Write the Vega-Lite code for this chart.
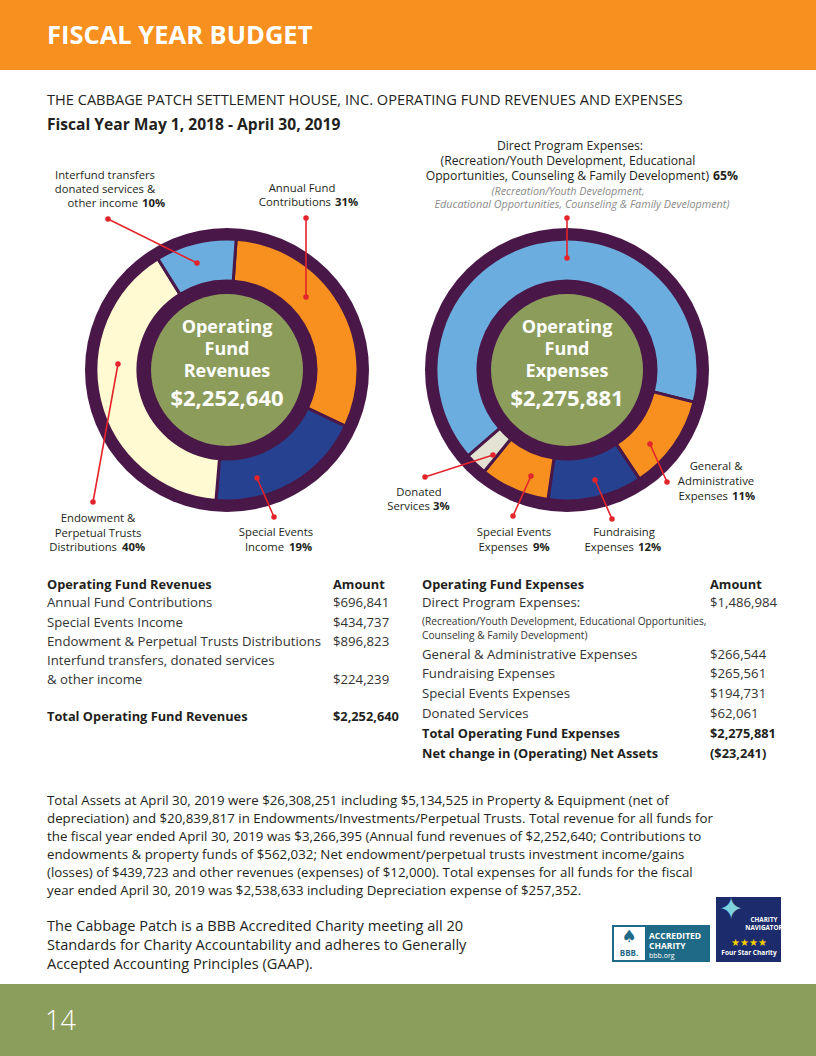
{
  "$schema": "https://vega.github.io/schema/vega-lite/v6.json",
  "padding": 0,
  "spacing": 0,
  "bounds": "flush",
  "background": "white",
  "config": {"view": {"stroke": null}, "font": "Open Sans"},
  "resolve": {"scale": {"color": "independent", "theta": "independent", "x": "independent", "y": "independent"}},
  "datasets": {
    "segL": [
      {"item": "Annual Fund Contributions", "amount": 696841, "ord": 1},
      {"item": "Special Events Income", "amount": 434737, "ord": 2},
      {"item": "Endowment & Perpetual Trusts Distributions", "amount": 896823, "ord": 3},
      {"item": "Interfund transfers, donated services & other income", "amount": 224239, "ord": 4}
    ],
    "segR": [
      {"item": "Direct Program Expenses", "amount": 1486984, "ord": 1},
      {"item": "General & Administrative Expenses", "amount": 266544, "ord": 2},
      {"item": "Fundraising Expenses", "amount": 265561, "ord": 3},
      {"item": "Special Events Expenses", "amount": 194731, "ord": 4},
      {"item": "Donated Services", "amount": 62061, "ord": 5}
    ],
    "headerBand": [{"band": "header", "x": 0, "x2": 816, "y": 0, "y2": 70}],
    "footerBand": [{"band": "footer", "x": 0, "x2": 816, "y": 984, "y2": 1056}],
    "headerTxt": [{"t": "FISCAL YEAR BUDGET", "x": 47, "y": 36}],
    "pageNo": [{"t": "14", "x": 45, "y": 1022}],
    "lines": [
      {"x": 108, "y": 219, "x2": 197, "y2": 263},
      {"x": 306, "y": 218, "x2": 306, "y2": 297},
      {"x": 93, "y": 502, "x2": 118, "y2": 364},
      {"x": 274, "y": 517, "x2": 257, "y2": 478},
      {"x": 567, "y": 218, "x2": 567, "y2": 258},
      {"x": 667, "y": 482, "x2": 650, "y2": 444},
      {"x": 612, "y": 519, "x2": 595, "y2": 480},
      {"x": 513, "y": 516, "x2": 531, "y2": 476},
      {"x": 425, "y": 477, "x2": 493, "y2": 455}
    ],
    "labC": [
      {"t": "Interfund transfers", "x": 105, "y": 176},
      {"t": "donated services &", "x": 105, "y": 190},
      {"t": "Annual Fund", "x": 302, "y": 189},
      {"t": "Endowment &", "x": 98, "y": 519},
      {"t": "Perpetual Trusts", "x": 98, "y": 534},
      {"t": "Special Events", "x": 276, "y": 533},
      {"t": "General &", "x": 716, "y": 467},
      {"t": "Administrative", "x": 716, "y": 482},
      {"t": "Fundraising", "x": 624, "y": 533},
      {"t": "Special Events", "x": 514, "y": 533},
      {"t": "Donated", "x": 419, "y": 493}
    ],
    "labR": [
      {"t": "other income", "x": 138, "y": 204},
      {"t": "Contributions", "x": 331, "y": 203},
      {"t": "Distributions", "x": 117, "y": 548},
      {"t": "Income", "x": 284, "y": 548},
      {"t": "Expenses", "x": 728, "y": 497},
      {"t": "Expenses", "x": 634, "y": 548},
      {"t": "Expenses", "x": 528, "y": 548},
      {"t": "Services", "x": 430, "y": 507}
    ],
    "labB": [
      {"t": "10%", "x": 142, "y": 204},
      {"t": "31%", "x": 335, "y": 203},
      {"t": "40%", "x": 122, "y": 548},
      {"t": "19%", "x": 289, "y": 548},
      {"t": "11%", "x": 732, "y": 497},
      {"t": "12%", "x": 638, "y": 548},
      {"t": "9%", "x": 533, "y": 548},
      {"t": "3%", "x": 433, "y": 507}
    ],
    "dirC": [
      {"t": "Direct Program Expenses:", "x": 570, "y": 146},
      {"t": "(Recreation/Youth Development, Educational", "x": 568, "y": 161}
    ],
    "dirR": [{"t": "Opportunities, Counseling & Family Development)", "x": 709, "y": 176}],
    "dirB": [{"t": "65%", "x": 713, "y": 176}],
    "gray": [
      {"t": "(Recreation/Youth Development,", "x": 568, "y": 192},
      {"t": "Educational Opportunities, Counseling & Family Development)", "x": 582, "y": 205}
    ],
    "centerW": [
      {"t": "Operating", "x": 227, "y": 328},
      {"t": "Fund", "x": 227, "y": 350},
      {"t": "Revenues", "x": 227, "y": 372},
      {"t": "Operating", "x": 567, "y": 328},
      {"t": "Fund", "x": 567, "y": 350},
      {"t": "Expenses", "x": 567, "y": 372}
    ],
    "centerA": [
      {"t": "$2,252,640", "x": 227, "y": 399},
      {"t": "$2,275,881", "x": 567, "y": 399}
    ],
    "title1": [{"t": "THE CABBAGE PATCH SETTLEMENT HOUSE, INC. OPERATING FUND REVENUES AND EXPENSES", "x": 47, "y": 101}],
    "title2": [{"t": "Fiscal Year May 1, 2018 - April 30, 2019", "x": 47, "y": 125}],
    "tblN": [
      {"t": "Annual Fund Contributions", "x": 47, "y": 603},
      {"t": "$696,841", "x": 333, "y": 603},
      {"t": "Special Events Income", "x": 47, "y": 623},
      {"t": "$434,737", "x": 333, "y": 623},
      {"t": "Endowment & Perpetual Trusts Distributions", "x": 47, "y": 642},
      {"t": "$896,823", "x": 333, "y": 642},
      {"t": "Interfund transfers, donated services", "x": 47, "y": 661},
      {"t": "& other income", "x": 47, "y": 680},
      {"t": "$224,239", "x": 333, "y": 680},
      {"t": "Direct Program Expenses:", "x": 422, "y": 603},
      {"t": "$1,486,984", "x": 710, "y": 603},
      {"t": "General & Administrative Expenses", "x": 422, "y": 655},
      {"t": "$266,544", "x": 710, "y": 655},
      {"t": "Fundraising Expenses", "x": 422, "y": 674},
      {"t": "$265,561", "x": 710, "y": 674},
      {"t": "Special Events Expenses", "x": 422, "y": 694},
      {"t": "$194,731", "x": 710, "y": 694},
      {"t": "Donated Services", "x": 422, "y": 714},
      {"t": "$62,061", "x": 710, "y": 714}
    ],
    "tblB": [
      {"t": "Operating Fund Revenues", "x": 47, "y": 585},
      {"t": "Amount", "x": 333, "y": 585},
      {"t": "Total Operating Fund Revenues", "x": 47, "y": 717},
      {"t": "$2,252,640", "x": 333, "y": 717},
      {"t": "Operating Fund Expenses", "x": 422, "y": 585},
      {"t": "Amount", "x": 710, "y": 585},
      {"t": "Total Operating Fund Expenses", "x": 422, "y": 734},
      {"t": "$2,275,881", "x": 710, "y": 734},
      {"t": "Net change in (Operating) Net Assets", "x": 422, "y": 754},
      {"t": "($23,241)", "x": 710, "y": 754}
    ],
    "tblS": [
      {"t": "(Recreation/Youth Development, Educational Opportunities,", "x": 422, "y": 622},
      {"t": "Counseling & Family Development)", "x": 422, "y": 636}
    ],
    "para1": [
      {"t": "Total Assets at April 30, 2019 were $26,308,251 including $5,134,525 in Property & Equipment (net of", "x": 47, "y": 801},
      {"t": "depreciation) and $20,839,817 in Endowments/Investments/Perpetual Trusts. Total revenue for all funds for", "x": 47, "y": 819},
      {"t": "the fiscal year ended April 30, 2019 was $3,266,395 (Annual fund revenues of $2,252,640; Contributions to", "x": 47, "y": 837},
      {"t": "endowments & property funds of $562,032; Net endowment/perpetual trusts investment income/gains", "x": 47, "y": 855},
      {"t": "(losses) of $439,723 and other revenues (expenses) of $12,000). Total expenses for all funds for the fiscal", "x": 47, "y": 873},
      {"t": "year ended April 30, 2019 was $2,538,633 including Depreciation expense of $257,352.", "x": 47, "y": 891}
    ],
    "para2": [
      {"t": "The Cabbage Patch is a BBB Accredited Charity meeting all 20", "x": 47, "y": 927},
      {"t": "Standards for Charity Accountability and adheres to Generally", "x": 47, "y": 946},
      {"t": "Accepted Accounting Principles (GAAP).", "x": 47, "y": 965}
    ],
    "bbbBox": [{"logo": "BBB", "x": 612, "x2": 710, "y": 925, "y2": 962}],
    "cnBox": [{"logo": "Charity Navigator", "x": 716, "x2": 781, "y": 897, "y2": 962}],
    "logoWhite": [{"logo": "BBB", "x": 614, "x2": 645, "y": 927, "y2": 960}],
    "bbbTxt": [
      {"t": "ACCREDITED", "x": 649, "y": 936},
      {"t": "CHARITY", "x": 649, "y": 946}
    ],
    "bbbSmall": [{"t": "bbb.org", "x": 649, "y": 956}],
    "bbbMark": [{"t": "BBB.", "x": 629, "y": 954}],
    "bbbTorch": [{"t": "♠", "x": 629, "y": 937}],
    "cnTxt": [
      {"t": "CHARITY", "x": 764, "y": 920},
      {"t": "NAVIGATOR", "x": 764, "y": 928}
    ],
    "cnStars": [{"t": "★★★★", "x": 749, "y": 943}],
    "cnSmall": [{"t": "Four Star Charity", "x": 749, "y": 953}],
    "cnStar": [{"t": "✦", "x": 731, "y": 910}]
  },
  "hconcat": [
    {
      "width": 454,
      "height": 740,
      "layer": [
        {
          "data": {"values": [{"donut": "Revenues"}]},
          "mark": {"type": "arc", "outerRadius": 142, "innerRadius": 0, "theta": 0, "theta2": 6.2832, "fill": "#4A1848"},
          "encoding": {}
        },
        {
          "data": {"name": "segL"},
          "mark": {"type": "arc", "outerRadius": 131, "innerRadius": 89, "stroke": "#4A1848", "strokeWidth": 3},
          "encoding": {
            "theta": {"field": "amount", "type": "quantitative", "stack": true, "scale": {"range": [0.0698, 6.353]}},
            "order": {"field": "ord", "type": "quantitative"},
            "color": {"field": "item", "type": "nominal", "legend": null,
              "scale": {"domain": ["Annual Fund Contributions", "Special Events Income", "Endowment & Perpetual Trusts Distributions", "Interfund transfers, donated services & other income"],
                        "range": ["#F7901E", "#26418F", "#FFFAD2", "#6BADDF"]}}
          }
        },
        {
          "data": {"values": [{"donut": "Revenues"}]},
          "mark": {"type": "arc", "outerRadius": 76, "innerRadius": 0, "theta": 0, "theta2": 6.2832, "fill": "#8C9C5B"},
          "encoding": {}
        }
      ]
    },
    {
      "width": 226,
      "height": 740,
      "layer": [
        {
          "data": {"values": [{"donut": "Expenses"}]},
          "mark": {"type": "arc", "outerRadius": 142, "innerRadius": 0, "theta": 0, "theta2": 6.2832, "fill": "#4A1848"},
          "encoding": {}
        },
        {
          "data": {"name": "segR"},
          "mark": {"type": "arc", "outerRadius": 131, "innerRadius": 89, "stroke": "#4A1848", "strokeWidth": 3},
          "encoding": {
            "theta": {"field": "amount", "type": "quantitative", "stack": true, "scale": {"range": [3.9968, 10.28]}},
            "order": {"field": "ord", "type": "quantitative"},
            "color": {"field": "item", "type": "nominal", "legend": null,
              "scale": {"domain": ["Direct Program Expenses", "General & Administrative Expenses", "Fundraising Expenses", "Special Events Expenses", "Donated Services"],
                        "range": ["#6BADDF", "#F7901E", "#26418F", "#F7901E", "#E3E2D3"]}}
          }
        },
        {
          "data": {"values": [{"donut": "Expenses"}]},
          "mark": {"type": "arc", "outerRadius": 76, "innerRadius": 0, "theta": 0, "theta2": 6.2832, "fill": "#8C9C5B"},
          "encoding": {}
        },
        {
          "encoding": {
            "x": {"field": "x", "type": "quantitative", "scale": {"domain": [454, 680], "nice": false, "zero": false}, "axis": null},
            "y": {"field": "y", "type": "quantitative", "scale": {"domain": [0, 740], "nice": false, "zero": false, "reverse": true}, "axis": null}
          },
          "layer": [
            {
              "data": {"name": "headerBand"},
              "mark": {"type": "rect", "color": "#F7901E"},
              "encoding": {"x2": {"field": "x2"}, "y2": {"field": "y2"}}
            },
            {
              "data": {"name": "footerBand"},
              "mark": {"type": "rect", "color": "#8C9E5C"},
              "encoding": {"x2": {"field": "x2"}, "y2": {"field": "y2"}}
            },
            {
              "data": {"name": "headerTxt"},
              "mark": {"type": "text", "align": "left", "baseline": "middle", "font": "Open Sans", "fontSize": 25.5, "fontWeight": "bold", "color": "#FFFFFF"},
              "encoding": {"text": {"field": "t"}}
            },
            {
              "data": {"name": "pageNo"},
              "mark": {"type": "text", "align": "left", "baseline": "middle", "font": "Open Sans", "fontSize": 27, "fontWeight": 300, "color": "#FFFFFF"},
              "encoding": {"text": {"field": "t"}}
            },
            {
              "data": {"name": "lines"},
              "mark": {"type": "rule", "color": "#E3242B", "strokeWidth": 1.6},
              "encoding": {"x2": {"field": "x2"}, "y2": {"field": "y2"}}
            },
            {
              "data": {"name": "lines"},
              "mark": {"type": "circle", "color": "#E3242B", "size": 30, "opacity": 1},
              "encoding": {}
            },
            {
              "data": {"name": "lines"},
              "mark": {"type": "circle", "color": "#E3242B", "size": 30, "opacity": 1},
              "encoding": {
                "x": {"field": "x2", "type": "quantitative"},
                "y": {"field": "y2", "type": "quantitative"}
              }
            },
            {
              "data": {"name": "centerW"},
              "mark": {"type": "text", "align": "center", "baseline": "middle", "font": "Open Sans", "fontSize": 18, "fontWeight": "bold", "color": "#FFFFFF"},
              "encoding": {"text": {"field": "t"}}
            },
            {
              "data": {"name": "centerA"},
              "mark": {"type": "text", "align": "center", "baseline": "middle", "font": "Open Sans", "fontSize": 22, "fontWeight": "bold", "color": "#FFFFFF"},
              "encoding": {"text": {"field": "t"}}
            },
            {
              "data": {"name": "labC"},
              "mark": {"type": "text", "align": "center", "baseline": "middle", "font": "Open Sans", "fontSize": 11.3, "color": "#231F20"},
              "encoding": {"text": {"field": "t"}}
            },
            {
              "data": {"name": "labR"},
              "mark": {"type": "text", "align": "right", "baseline": "middle", "font": "Open Sans", "fontSize": 11.3, "color": "#231F20"},
              "encoding": {"text": {"field": "t"}}
            },
            {
              "data": {"name": "labB"},
              "mark": {"type": "text", "align": "left", "baseline": "middle", "font": "Open Sans", "fontSize": 11.3, "fontWeight": "bold", "color": "#231F20"},
              "encoding": {"text": {"field": "t"}}
            },
            {
              "data": {"name": "dirC"},
              "mark": {"type": "text", "align": "center", "baseline": "middle", "font": "Open Sans", "fontSize": 12.2, "color": "#231F20"},
              "encoding": {"text": {"field": "t"}}
            },
            {
              "data": {"name": "dirR"},
              "mark": {"type": "text", "align": "right", "baseline": "middle", "font": "Open Sans", "fontSize": 12.2, "color": "#231F20"},
              "encoding": {"text": {"field": "t"}}
            },
            {
              "data": {"name": "dirB"},
              "mark": {"type": "text", "align": "left", "baseline": "middle", "font": "Open Sans", "fontSize": 12.2, "fontWeight": "bold", "color": "#231F20"},
              "encoding": {"text": {"field": "t"}}
            },
            {
              "data": {"name": "gray"},
              "mark": {"type": "text", "align": "center", "baseline": "middle", "font": "Open Sans", "fontSize": 10.8, "fontStyle": "italic", "color": "#8A8A8A"},
              "encoding": {"text": {"field": "t"}}
            },
            {
              "data": {"name": "title1"},
              "mark": {"type": "text", "align": "left", "baseline": "middle", "font": "Open Sans", "fontSize": 14.6, "color": "#231F20"},
              "encoding": {"text": {"field": "t"}}
            },
            {
              "data": {"name": "title2"},
              "mark": {"type": "text", "align": "left", "baseline": "middle", "font": "Open Sans", "fontSize": 15.6, "fontWeight": "bold", "color": "#231F20"},
              "encoding": {"text": {"field": "t"}}
            },
            {
              "data": {"name": "tblN"},
              "mark": {"type": "text", "align": "left", "baseline": "middle", "font": "Open Sans", "fontSize": 13.2, "color": "#333333"},
              "encoding": {"text": {"field": "t"}}
            },
            {
              "data": {"name": "tblB"},
              "mark": {"type": "text", "align": "left", "baseline": "middle", "font": "Open Sans", "fontSize": 12.8, "fontWeight": "bold", "color": "#231F20"},
              "encoding": {"text": {"field": "t"}}
            },
            {
              "data": {"name": "tblS"},
              "mark": {"type": "text", "align": "left", "baseline": "middle", "font": "Open Sans", "fontSize": 10.2, "color": "#333333"},
              "encoding": {"text": {"field": "t"}}
            },
            {
              "data": {"name": "para1"},
              "mark": {"type": "text", "align": "left", "baseline": "middle", "font": "Open Sans", "fontSize": 13.3, "color": "#231F20"},
              "encoding": {"text": {"field": "t"}}
            },
            {
              "data": {"name": "para2"},
              "mark": {"type": "text", "align": "left", "baseline": "middle", "font": "Open Sans", "fontSize": 14.6, "color": "#231F20"},
              "encoding": {"text": {"field": "t"}}
            },
            {
              "data": {"name": "bbbBox"},
              "mark": {"type": "rect", "color": "#1F6A86"},
              "encoding": {"x2": {"field": "x2"}, "y2": {"field": "y2"}}
            },
            {
              "data": {"name": "cnBox"},
              "mark": {"type": "rect", "color": "#1C2B6C"},
              "encoding": {"x2": {"field": "x2"}, "y2": {"field": "y2"}}
            },
            {
              "data": {"name": "logoWhite"},
              "mark": {"type": "rect", "color": "#FFFFFF"},
              "encoding": {"x2": {"field": "x2"}, "y2": {"field": "y2"}}
            },
            {
              "data": {"name": "bbbTorch"},
              "mark": {"type": "text", "align": "center", "baseline": "middle", "font": "DejaVu Sans", "fontSize": 17, "color": "#1F6A86"},
              "encoding": {"text": {"field": "t"}}
            },
            {
              "data": {"name": "bbbMark"},
              "mark": {"type": "text", "align": "center", "baseline": "middle", "font": "Open Sans", "fontSize": 8, "fontWeight": "bold", "color": "#1F6A86"},
              "encoding": {"text": {"field": "t"}}
            },
            {
              "data": {"name": "bbbTxt"},
              "mark": {"type": "text", "align": "left", "baseline": "middle", "font": "Open Sans", "fontSize": 8.5, "fontWeight": "bold", "color": "#FFFFFF"},
              "encoding": {"text": {"field": "t"}}
            },
            {
              "data": {"name": "bbbSmall"},
              "mark": {"type": "text", "align": "left", "baseline": "middle", "font": "Open Sans", "fontSize": 7, "color": "#FFFFFF"},
              "encoding": {"text": {"field": "t"}}
            },
            {
              "data": {"name": "cnStar"},
              "mark": {"type": "text", "align": "center", "baseline": "middle", "font": "DejaVu Sans", "fontSize": 30, "color": "#7FD1DE"},
              "encoding": {"text": {"field": "t"}}
            },
            {
              "data": {"name": "cnTxt"},
              "mark": {"type": "text", "align": "center", "baseline": "middle", "font": "Open Sans", "fontSize": 6.3, "fontWeight": "bold", "color": "#FFFFFF"},
              "encoding": {"text": {"field": "t"}}
            },
            {
              "data": {"name": "cnStars"},
              "mark": {"type": "text", "align": "center", "baseline": "middle", "font": "DejaVu Sans", "fontSize": 10, "color": "#F5D000"},
              "encoding": {"text": {"field": "t"}}
            },
            {
              "data": {"name": "cnSmall"},
              "mark": {"type": "text", "align": "center", "baseline": "middle", "font": "Open Sans", "fontSize": 6.5, "fontWeight": "bold", "color": "#FFFFFF"},
              "encoding": {"text": {"field": "t"}}
            }
          ]
        }
      ]
    }
  ]
}
